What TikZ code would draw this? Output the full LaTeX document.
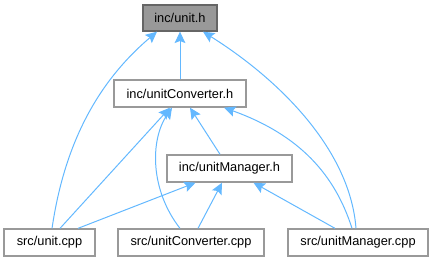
\documentclass[tikz,border=0pt]{standalone}
\usepackage{fontspec}
\setmainfont{Liberation Sans}
\usetikzlibrary{arrows.meta}
\definecolor{edgeblue}{HTML}{63B8FF}
\definecolor{boxborder}{HTML}{999999}
\definecolor{rootborder}{HTML}{666666}
\definecolor{rootfill}{HTML}{999999}
\begin{document}
\begin{tikzpicture}[x=0.75pt,y=-0.75pt,
  box/.style={draw=boxborder,line width=1pt,fill=white,inner sep=0pt,font=\fontsize{9.6}{11}\selectfont,text=black},
  rootbox/.style={box,draw=rootborder,fill=rootfill},
  edge/.style={draw=edgeblue,line width=0.75pt,-{Stealth[length=8.5pt,width=8pt,inset=1.5pt]}}]
\useasboundingbox (0,0) rectangle (433,261);
\node[rootbox,minimum width=55.5pt,minimum height=19.5pt] (unith) at (180,18) {inc/unit.h};
\node[box,minimum width=99pt,minimum height=20.25pt] (ucvh) at (180,93.5) {inc/unitConverter.h};
\node[box,minimum width=93.75pt,minimum height=20.25pt] (umh) at (229.5,168.5) {inc/unitManager.h};
\node[box,minimum width=68.25pt,minimum height=20.25pt] (ucpp) at (49.5,242.5) {src/unit.cpp};
\node[box,minimum width=109.5pt,minimum height=20.25pt] (ucvcpp) at (191,242.5) {src/unitConverter.cpp};
\node[box,minimum width=105pt,minimum height=20.25pt] (umcpp) at (358,242.5) {src/unitManager.cpp};
% edges to inc/unit.h
\draw[edge] ([xshift=1.9pt]ucpp.north) .. controls (65,140) and (100,80) .. ([xshift=-17.25pt]unith.south);
\draw[edge] (ucvh.north) -- (unith.south);
\draw[edge] ([xshift=-1.5pt]umcpp.north) .. controls (350,150) and (280,80) .. ([xshift=17.25pt]unith.south);
% edges to inc/unitConverter.h
\draw[edge] ([xshift=7.9pt]ucpp.north) -- ([xshift=-7.5pt]ucvh.south);
\draw[edge] ([xshift=-8.25pt]ucvcpp.north) .. controls (150,190) and (150,140) .. ([xshift=-6pt]ucvh.south);
\draw[edge] ([xshift=-7.1pt]umh.north) -- ([xshift=7.5pt]ucvh.south);
\draw[edge] ([xshift=-4.5pt]umcpp.north) .. controls (335,175) and (300,135) .. ([xshift=33pt]ucvh.south);
% edges to inc/unitManager.h
\draw[edge] ([xshift=21.4pt]ucpp.north) -- ([xshift=-25.5pt]umh.south);
\draw[edge] ([xshift=5.25pt]ucvcpp.north) -- ([xshift=-5.6pt]umh.south);
\draw[edge] ([xshift=-17.25pt]umcpp.north) -- ([xshift=18pt]umh.south);
\end{tikzpicture}
\end{document}
